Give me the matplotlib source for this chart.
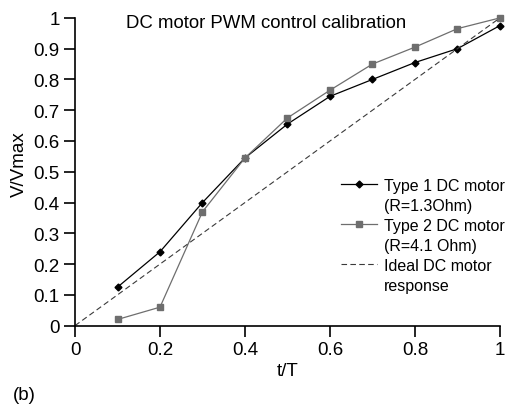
import matplotlib.pyplot as plt
from matplotlib.lines import Line2D

# data
t = [0.1, 0.2, 0.3, 0.4, 0.5, 0.6, 0.7, 0.8, 0.9, 1.0]
type1 = [0.125, 0.24, 0.40, 0.545, 0.655, 0.745, 0.80, 0.855, 0.90, 0.975]
type2 = [0.02, 0.06, 0.37, 0.545, 0.675, 0.765, 0.85, 0.905, 0.965, 1.0]
ideal_t = [0.0, 1.0]
ideal_v = [0.0, 1.0]
ticks = [0, 0.2, 0.4, 0.6, 0.8, 1]
yticks = [0, 0.1, 0.2, 0.3, 0.4, 0.5, 0.6, 0.7, 0.8, 0.9, 1]
legend_lines = [('Type 1 DC motor', '(R=1.3Ohm)'),
                ('Type 2 DC motor', '(R=4.1 Ohm)'),
                ('Ideal DC motor', 'response')]

plt.rcParams['font.family'] = ['Liberation Sans', 'DejaVu Sans']
plt.rcParams['font.size'] = 13

fig = plt.figure(figsize=(5.12, 4.06), dpi=100)
ax = fig.add_axes([0.1465, 0.1955, 0.83, 0.758])

l1, = ax.plot(t, type1, color='black', lw=0.9, marker='D', ms=3.5, clip_on=False)
l2, = ax.plot(t, type2, color='#6e6e6e', lw=0.9, marker='s', ms=4, clip_on=False)
l3, = ax.plot(ideal_t, ideal_v, color='#3a3a3a', lw=0.8, ls=(0, (5, 3)))

ax.set_xlim(0, 1)
ax.set_ylim(0, 1)
ax.set_xticks(ticks)
ax.set_xticklabels(['0', '0.2', '0.4', '0.6', '0.8', '1'])
ax.set_yticks(yticks)
ax.set_yticklabels(['0', '0.1', '0.2', '0.3', '0.4', '0.5', '0.6',
                    '0.7', '0.8', '0.9', '1'])
ax.tick_params(direction='out', length=8, width=1.2, labelsize=13.5, pad=3)
for s in ['top', 'right']:
    ax.spines[s].set_visible(False)
for s in ['left', 'bottom']:
    ax.spines[s].set_linewidth(1.2)

ax.set_xlabel('t/T', fontsize=13.5, labelpad=3)
ax.set_ylabel('V/Vmax', fontsize=13.5)
ax.yaxis.set_label_coords(-0.111, 0.528)
ax.text(0.45, 0.985, 'DC motor PWM control calibration', transform=ax.transAxes,
        ha='center', va='center', fontsize=13.4)

# two-line legend labels: second line as its own row with an empty handle
blank = Line2D([], [], color='none')
handles, labels = [], []
for h, (a, b) in zip([l1, l2, l3], legend_lines):
    handles += [h, blank]
    labels += [a, b]
ax.legend(handles, labels, loc='upper left', bbox_to_anchor=(0.626, 0.48),
          frameon=False, handlelength=2.25, handletextpad=0.45,
          labelspacing=0.31, fontsize=11.5, borderaxespad=0, borderpad=0)

fig.text(0.025, 0.027, '(b)', fontsize=13.5, va='center')

fig.savefig('out.png', dpi=100)
